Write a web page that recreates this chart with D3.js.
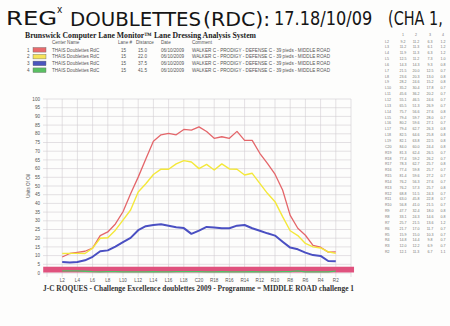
<!DOCTYPE html>
<html>
<head>
<meta charset="utf-8">
<script src="https://cdn.jsdelivr.net/npm/d3@7"></script>
<style>
  html, body { margin: 0; padding: 0; background: #fdfdfc; }
  svg { display: block; }
</style>
</head>
<body>
<svg id="chart" width="450" height="326"></svg>
<script>
// Boards across the lane, left gutter to right gutter
const boards = ["L2","L3","L4","L5","L6","L7","L8","L9","L10","L11","L12","L13","L14","L15","L16","L17","L18","L19",
  "C20","R19","R18","R17","R16","R15","R14","R13","R12","R11","R10","R9","R8","R7","R6","R5","R4","R3","R2"];
const boardIndex = [2,3,4,5,6,7,8,9,10,11,12,13,14,15,16,17,18,19,20,21,22,23,24,25,26,27,28,29,30,31,32,33,34,35,36,37,38];

// Units of oil per board at each read distance
const oil15 = [9.2,11.2,11.9,12.5,14.3,21.5,23.6,28.2,35.2,45.6,55.1,65.5,75.7,79.4,80.2,79.4,82.5,82.1,
  84.0,81.3,77.4,78.3,77.4,81.4,76.2,76.2,68.8,63.0,56.8,47.7,33.1,25.7,21.7,15.9,14.8,12.0,12.1];
const oil22 = [11.2,11.3,11.3,11.2,14.3,20.0,20.3,24.6,30.4,36.2,46.5,51.3,56.6,59.7,59.6,62.7,64.6,63.8,
  60.0,62.4,59.2,62.7,59.8,59.6,56.3,57.3,51.5,45.8,41.0,32.4,24.3,21.5,17.0,15.0,14.4,12.2,11.3];
const oil375 = [6.3,6.1,6.3,7.3,9.3,12.5,13.0,15.2,17.8,20.2,24.6,26.9,27.6,28.0,27.1,26.3,25.8,22.5,
  24.4,26.5,26.2,25.7,25.7,27.2,27.6,25.7,24.3,22.8,21.5,18.0,14.6,13.6,11.7,10.3,9.8,6.9,6.7];
const oil415 = [1.2,1.2,1.2,1.0,0.8,0.7,0.8,0.8,0.7,0.7,0.7,0.7,0.8,0.7,0.7,0.8,0.8,0.8,
  0.8,0.7,0.7,0.8,0.7,0.7,0.7,0.8,0.7,0.7,0.7,0.8,0.8,1.2,0.7,0.7,0.7,0.7,1.1];

// Axis ticks
const yTicks = [0,5,10,15,20,25,30,35,40,45,50,55,60,65,70,75,80,85,90,95,100];
const xTickLabels = ["L2","L4","L6","L8","L10","L12","L14","L16","L18","C20","R18","R16","R14","R12","R10","R8","R6","R4","R2"];
const xTickIndex = [2,4,6,8,10,12,14,16,18,20,22,24,26,28,30,32,34,36,38];
const xGridIndex = [0,2,4,6,8,10,12,14,16,18,20,22,24,26,28,30,32,34,36,38,40];

// Legend rows
const legendNames = ["THAIS Doublettes RdC","THAIS Doublettes RdC","THAIS Doublettes RdC","THAIS Doublettes RdC"];
const legendLane = ["15","15","15","15"];
const legendDistance = ["15.0","22.0","37.5","41.5"];
const legendDate = ["06/10/2009","06/10/2009","06/10/2009","06/10/2009"];
const legendComment = "WALKER C - PRODIGY - DEFENSE C - 39 pieds - MIDDLE ROAD";

// Highlighted lane band along the foot of the chart
const bandRange = [0.3, 3.6];
const bandBoards = [-0.5, 40.4];

const colors = ["#e4666a", "#f4e83a", "#4a4fc2", "#4fc266"];
const swatchColors = ["#e86a6c", "#f6e45a", "#4b55bd", "#5abf62"];
const widths = [1.3, 1.4, 2.0, 1.3];
const series = [oil15, oil22, oil375, oil415];

const svg = d3.select("#chart");

const x = d3.scaleLinear().domain([0, 40]).range([47, 351]);
const y = d3.scaleLinear().domain([0, 100]).range([273, 99]);

// Handwritten heading, each word stretched horizontally to its own width
const hand = svg.append("g").attr("fill", "#151515")
  .style("font-family", "'DejaVu Sans', sans-serif").style("font-size", "19px");
const handParts = [
  {t: "REG", x: 6, sx: 1.28, y: 25},
  {t: "DOUBLETTES", x: 70, sx: 1.04, y: 25.5},
  {t: "(RDC):", x: 203, sx: 1.08, y: 25.5},
  {t: "17.18/10/09", x: 274, sx: 0.85, y: 25},
  {t: "(CHA 1,", x: 388, sx: 0.76, y: 25}
];
handParts.forEach(p => {
  hand.append("text").attr("transform", `translate(${p.x},${p.y}) scale(${p.sx},1)`).text(p.t);
});
hand.append("text").attr("transform", "translate(57,13) scale(0.9,1)").style("font-size", "10px").text("x");

// Report title
svg.append("text").attr("x", 25).attr("y", 38).attr("textLength", 231).attr("lengthAdjust", "spacingAndGlyphs")
  .style("font-family", "'Liberation Serif', serif").style("font-weight", "bold").style("font-size", "8px")
  .attr("fill", "#222").text("Brunswick Computer Lane Monitor\u2122 Lane Dressing Analysis System");

// Legend table
const lg = svg.append("g").style("font-family", "'Liberation Sans', Arial, sans-serif").style("font-size", "4.6px").attr("fill", "#555");
const hdrY = 44;
lg.append("text").attr("x", 52).attr("y", hdrY).text("Center Name");
lg.append("text").attr("x", 118).attr("y", hdrY).text("Lane #");
lg.append("text").attr("x", 136).attr("y", hdrY).text("Distance");
lg.append("text").attr("x", 161).attr("y", hdrY).text("Date");
lg.append("text").attr("x", 192).attr("y", hdrY).text("Comment");
legendNames.forEach((name, i) => {
  const ry = 51.5 + i * 6.8;
  lg.append("text").attr("x", 27).attr("y", ry).text(String(i + 1));
  svg.append("rect").attr("x", 33).attr("y", ry - 4).attr("width", 13).attr("height", 4.6)
    .attr("fill", swatchColors[i]).attr("stroke", "#666").attr("stroke-width", 0.4);
  lg.append("text").attr("x", 52).attr("y", ry).text(name);
  lg.append("text").attr("x", 121).attr("y", ry).text(legendLane[i]);
  lg.append("text").attr("x", 138).attr("y", ry).text(legendDistance[i]);
  lg.append("text").attr("x", 161).attr("y", ry).text(legendDate[i]);
  lg.append("text").attr("x", 192).attr("y", ry).attr("textLength", 138).attr("lengthAdjust", "spacingAndGlyphs").text(legendComment);
});

// Grid
const grid = svg.append("g").attr("stroke", "#d2cdd2").attr("stroke-width", 0.6);
grid.selectAll("line.h").data(yTicks).join("line")
  .attr("x1", 43).attr("x2", x(40)).attr("y1", d => y(d)).attr("y2", d => y(d));
grid.selectAll("line.v").data(xGridIndex).join("line")
  .attr("x1", d => x(d)).attr("x2", d => x(d)).attr("y1", y(100)).attr("y2", 277);

// Y axis labels
const yl = svg.append("g").style("font-family", "'Liberation Sans', Arial, sans-serif").style("font-size", "4.6px").attr("fill", "#555");
yl.selectAll("text").data(yTicks).join("text")
  .attr("x", 40).attr("y", d => y(d) + 1.6).attr("text-anchor", "end").text(d => d);
yl.append("text").attr("transform", `translate(29.5,${y(50)}) rotate(-90)`).attr("text-anchor", "middle").text("Units Of Oil");

// Lane band
svg.append("rect").attr("x", x(bandBoards[0])).attr("width", x(bandBoards[1]) - x(bandBoards[0]))
  .attr("y", y(bandRange[1])).attr("height", y(bandRange[0]) - y(bandRange[1]))
  .attr("fill", "#e0527e");

// Series lines
const line = d3.line().x((d, i) => x(boardIndex[i])).y(d => y(d));
[3, 0, 1, 2].forEach(k => {
  svg.append("path").datum(series[k]).attr("d", line).attr("fill", "none")
    .attr("stroke", colors[k]).attr("stroke-width", widths[k]).attr("stroke-linejoin", "round");
});

// X axis labels
svg.append("g").style("font-family", "'Liberation Sans', Arial, sans-serif").style("font-size", "4.6px").attr("fill", "#555")
  .selectAll("text").data(xTickLabels).join("text")
  .attr("x", (d, i) => x(xTickIndex[i])).attr("y", 281.5).attr("text-anchor", "middle").text(d => d);

// Footer
svg.append("text").attr("x", 43).attr("y", 290.5).attr("textLength", 311).attr("lengthAdjust", "spacingAndGlyphs")
  .style("font-family", "'Liberation Serif', serif").style("font-weight", "bold").style("font-size", "8px")
  .attr("fill", "#333").text("J-C ROQUES - Challenge Excellence doublettes 2009 - Programme = MIDDLE ROAD challenge 1");

// Data table at the right
const tb = svg.append("g").style("font-family", "'Liberation Sans', Arial, sans-serif").style("font-size", "3.6px").attr("fill", "#777");
const colX = [403, 416, 430, 443];
["1","2","3","4"].forEach((h, j) => tb.append("text").attr("x", colX[j]).attr("y", 35.5).attr("text-anchor", "middle").text(h));
boards.forEach((b, i) => {
  const ry = 42.5 + i * 5.85;
  tb.append("text").attr("x", 385).attr("y", ry).text(b);
  series.forEach((s, j) => {
    tb.append("text").attr("x", colX[j]).attr("y", ry).attr("text-anchor", "middle").text(s[i].toFixed(1));
  });
});
</script>
</body>
</html>
